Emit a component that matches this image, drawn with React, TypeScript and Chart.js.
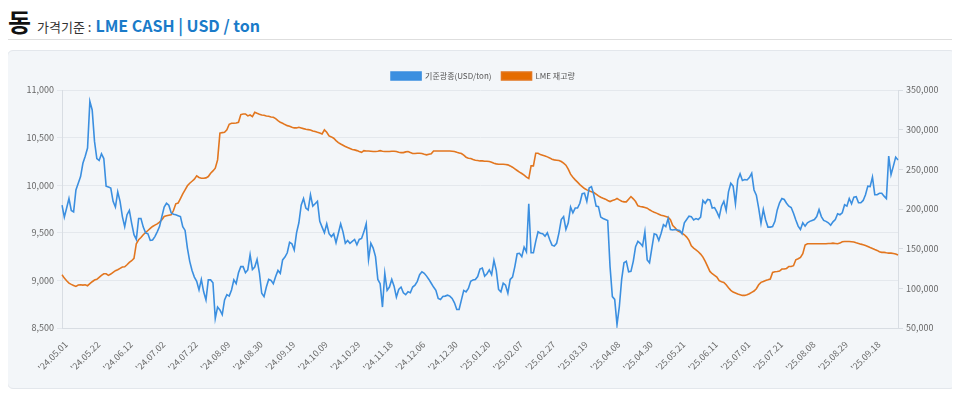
import React, { useEffect, useRef } from 'react';
import { Chart, registerables } from 'chart.js';

Chart.register(...registerables);

const dateTicks: string[] = [
  "'24.05.01", "'24.05.22", "'24.06.12", "'24.07.02", "'24.07.22", "'24.08.09", "'24.08.30",
  "'24.09.19", "'24.10.09", "'24.10.29", "'24.11.18", "'24.12.06", "'24.12.30", "'25.01.20",
  "'25.02.07", "'25.02.27", "'25.03.19", "'25.04.08", "'25.04.30", "'25.05.21", "'25.06.11",
  "'25.07.01", "'25.07.21", "'25.08.08", "'25.08.29", "'25.09.18",
];
const tickEvery = 14;

const priceLabel = '기준광종(USD/ton)';
const stockLabel = 'LME 재고량';

const priceValues: number[] = [
  9790, 9665, 9760, 9860, 9735, 9720, 9950, 10020, 10090, 10230,
  10305, 10390, 10880, 10790, 10460, 10280, 10260, 10330, 10280, 9990,
  9980, 9970, 9830, 9770, 9930, 9830, 9670, 9565, 9690, 9735,
  9600, 9480, 9430, 9650, 9650, 9560, 9500, 9490, 9420, 9425,
  9460, 9510, 9565, 9670, 9770, 9810, 9790, 9710, 9695, 9690,
  9680, 9670, 9565, 9525, 9340, 9200, 9105, 9035, 8990, 8900,
  9010, 8880, 8795, 9005, 9005, 8975, 8600, 8720, 8690, 8640,
  8795, 8850, 8835, 8900, 9005, 8965, 9080, 9145, 9145, 9080,
  9110, 9270, 9115, 9140, 9220, 9080, 8865, 8830, 8930, 9010,
  9000, 8965, 9040, 9105, 9075, 9215, 9245, 9290, 9400, 9385,
  9320, 9500, 9605, 9790, 9860, 9760, 9740, 9900, 9780, 9805,
  9830, 9620, 9560, 9500, 9595, 9490,
  9460, 9490, 9395, 9495, 9595, 9510, 9390, 9420, 9390, 9410,
  9430, 9375, 9430, 9440, 9510, 9595, 9220, 9390, 9340, 9250,
  9010, 8965, 8720, 9075, 8895, 8930, 9010, 8940, 8825, 8905,
  8930, 8870, 8850, 8880, 8870, 8930, 8950, 8990, 9060, 9090,
  9075, 9045, 9010, 8970, 8930, 8895, 8810, 8800, 8830, 8835,
  8845, 8835, 8810, 8765, 8695, 8695, 8795, 8895, 8880, 8915,
  8990, 9005, 9010, 9040, 9120, 9130, 9045, 9070, 9110, 9060,
  9210, 9105, 8905, 8880, 8970, 8950, 8865, 9010, 9035, 9145,
  9280, 9285, 9250, 9350, 9300, 9805, 9290, 9290, 9410, 9510,
  9495, 9490, 9465, 9500, 9430, 9370, 9360, 9390, 9500, 9640,
  9670, 9535, 9605, 9770, 9710, 9760, 9760, 9810, 9910, 9915,
  9830, 9970, 9985, 9900, 9780, 9775, 9665, 9650, 9640, 9630,
  9145,
  8830, 8800, 8535, 8725, 9010, 9185, 9200, 9090, 9095,
  9200, 9355, 9410, 9390, 9360, 9510, 9215, 9185, 9340, 9490,
  9480, 9420, 9495, 9585, 9565, 9650, 9535, 9530, 9535, 9530,
  9525, 9490, 9605, 9640, 9675, 9670, 9635, 9650, 9640, 9665,
  9840, 9810, 9850, 9845, 9760, 9765, 9720, 9665, 9780, 9830,
  9735, 9930, 10020, 9990, 9805, 10055, 10120, 10050, 10060, 10055,
  10080, 10125, 9950, 9895, 9760, 9600, 9745, 9635, 9560, 9560,
  9565, 9620, 9740, 9815, 9860, 9850, 9810, 9780, 9765, 9705,
  9635, 9570, 9535, 9605, 9570, 9605, 9620, 9630, 9640, 9670,
  9745, 9670, 9630, 9620, 9605, 9580, 9615, 9640, 9700, 9690,
  9710, 9795, 9780, 9860, 9805, 9875, 9880, 9815, 9815, 9840,
  9900, 9990, 9985, 10085, 9900, 9900, 9915, 9915, 9885, 9860,
  10305, 10110, 10200, 10295, 10265,
];

const stockValues: number[] = [
  117100, 112900, 109600, 106600, 105000, 103700, 102400, 104100, 104500, 104100,
  104500, 103300, 105800, 108300, 110400, 111300, 113800, 116300, 118400, 118400,
  116300, 118000, 120100, 122200, 123400, 125100, 126800, 127200, 129700, 132700,
  134800, 137700, 156200, 161200, 164100, 167500, 170400, 172900, 175500, 178000,
  179700, 181300, 183400, 186400, 190600, 191400, 192200, 192700, 198100, 206500,
  207400, 213200, 219100, 224100, 229200, 232500, 235000, 237600, 241800, 239700,
  238800, 238800, 239200, 240900, 245100, 248000, 251400, 261900, 295500, 296300,
  296700, 299700, 306800, 308100, 308100, 308500, 309300, 319000, 319800, 319800,
  317300, 318500, 316400, 321900, 320600, 319400, 318500, 318100, 317300, 316900,
  316000, 315600, 313900, 311400, 309300, 308100, 306400, 305100, 304300, 303000,
  302200, 302200, 303000, 302200, 301300, 300500, 300100, 299700, 298400, 297600,
  296700, 295900, 294600, 299700, 296700, 292100,
  290900, 289200, 286200, 283700, 282000, 280400, 278700, 277400, 276200, 274900,
  274500, 273600, 272400, 271500, 273600, 273200, 273200, 272800, 272400, 272400,
  272800, 273600, 272800, 272400, 272400, 272400, 272800, 272800, 272400, 271500,
  271100, 271100, 272000, 272400, 271100, 269900, 269900, 270300, 270300, 269900,
  269000, 268200, 269000, 269500, 273200, 273200, 273200, 273200, 273200, 273200,
  273200, 273200, 272800, 272400, 271500, 270700, 269900, 267800, 265300, 264000,
  263600, 262300, 261500, 261100, 260600, 260600, 260200, 260200, 259800, 259000,
  257700, 256900, 256400, 256400, 256400, 256000, 255600, 254300, 252700, 250600,
  248500, 246400, 244700, 242600, 240100, 238400, 254300, 254300, 270300, 270300,
  268600, 267800, 266900, 265700, 264400, 262700, 261900, 261500, 261100, 259800,
  257700, 255200, 250200, 243900, 240100, 236700, 233800, 230800, 228300, 225800,
  224100, 222900, 221600, 220800, 218700, 216600, 214900, 213600, 212400, 210700,
  209400,
  210700, 211500, 213200, 211500, 209900, 209000, 209000, 212400, 215700,
  212800, 209400, 204000, 203200, 202700, 201900, 201100, 199000, 197300, 196000,
  194800, 193500, 192200, 191400, 190600, 189700, 186400, 179200, 176300, 172900,
  171300, 169600, 167500, 164600, 160400, 153600, 150700, 148600, 146100, 143200,
  139400, 133900, 127600, 121300, 118400, 116300, 114200, 109600, 108300, 107500,
  104500, 100800, 97400, 95300, 94100, 92800, 92000, 91100, 91100, 92000,
  93200, 94900, 96600, 99500, 104500, 107500, 108700, 110000, 110800, 111700,
  120100, 120900, 121300, 121800, 124300, 124300, 125100, 127600, 127600, 128500,
  136000, 137300, 139000, 143600, 154500, 156200, 156200, 156200, 156200, 156200,
  156200, 156200, 156200, 156200, 156600, 156600, 157000, 156600, 156200, 157000,
  158700, 159100, 159100, 159100, 158700, 158300, 157400, 156600, 155700, 154900,
  154100, 152800, 151500, 150300, 149000, 147800, 146100, 145300, 145300, 144800,
  144400, 144400, 144000, 143200, 141900,
];

const FONT = "'Noto Sans CJK KR', 'Noto Sans', sans-serif";

function LmeChart() {
  const ref = useRef<HTMLCanvasElement | null>(null);
  useEffect(() => {
    if (!ref.current) return;
    const labels = priceValues.map((_, i) =>
      i % tickEvery === 0 && dateTicks[i / tickEvery] ? dateTicks[i / tickEvery] : ''
    );
    const fmt = (v: any) => Number(v).toLocaleString('en-US');
    const chart = new Chart(ref.current, {
      type: 'line',
      data: {
        labels,
        datasets: [
          {
            label: priceLabel,
            data: priceValues,
            borderColor: '#3b8fe0',
            backgroundColor: '#3b8fe0',
            borderWidth: 1.6,
            pointRadius: 0,
            tension: 0,
            yAxisID: 'y',
          },
          {
            label: stockLabel,
            data: stockValues,
            borderColor: '#e2761f',
            backgroundColor: '#e56c00',
            borderWidth: 1.6,
            pointRadius: 0,
            tension: 0,
            yAxisID: 'y1',
          },
        ],
      },
      options: {
        animation: false,
        responsive: true,
        maintainAspectRatio: false,
        events: [],
        layout: { padding: { top: 0, left: 0, right: 0, bottom: 0 } },
        font: { family: FONT },
        plugins: {
          legend: {
            display: true,
            labels: {
              boxWidth: 30,
              boxHeight: 8,
              padding: 10,
              color: '#555',
              font: { size: 8, family: FONT },
            },
          },
          tooltip: { enabled: false },
        },
        scales: {
          x: {
            grid: { display: false },
            border: { display: true, color: '#d8dde3' },
            ticks: {
              autoSkip: false,
              minRotation: 45,
              maxRotation: 45,
              labelOffset: 4,
              color: '#6a6a6a',
              font: { size: 9, family: FONT },
              callback: (_v: any, i: number) => (labels[i] ? labels[i] : null),
            },
            afterFit: (s: any) => { s.height = 54; },
          },
          y: {
            position: 'left',
            min: 8500,
            max: 11000,
            ticks: {
              stepSize: 500,
              color: '#666',
              padding: 3,
              font: { size: 9, family: FONT },
              callback: fmt,
            },
            grid: { color: '#e4e8ed', tickLength: 5 },
            border: { display: true, color: '#d8dde3' },
            afterFit: (s: any) => { s.width = 46; },
          },
          y1: {
            position: 'right',
            min: 50000,
            max: 350000,
            ticks: {
              stepSize: 50000,
              color: '#666',
              padding: 3,
              font: { size: 9, family: FONT },
              callback: fmt,
            },
            grid: { drawOnChartArea: false, color: '#d8dde3', tickLength: 5 },
            border: { display: true, color: '#d8dde3' },
            afterFit: (s: any) => { s.width = 52; },
          },
        },
      } as any,
    });
    return () => chart.destroy();
  }, []);
  return <canvas ref={ref} />;
}

export default function App() {
  return (
    <div style={{ position: 'relative', width: 950, height: 388, fontFamily: FONT }}>
      <div style={{ position: 'absolute', left: 0, top: 0, height: 26, display: 'flex', alignItems: 'baseline', whiteSpace: 'nowrap' }}>
        <span style={{ fontSize: 25, fontWeight: 700, color: '#111', lineHeight: '26px' }}>동</span>
        <span style={{ fontSize: 13, color: '#333', marginLeft: 6 }}>가격기준 :</span>
        <span style={{ fontSize: 16, fontWeight: 700, color: '#1a7bc9', marginLeft: 4 }}>LME CASH | USD / ton</span>
      </div>
      <div style={{ position: 'absolute', left: 0, top: 31, width: 950, height: 1, background: '#dedede' }} />
      <div
        style={{
          position: 'absolute', left: -1, top: 42, width: 947, height: 337,
          background: '#f3f6f9', border: '1px solid #e3e7ec', borderRadius: 6,
        }}
      />
      <div style={{ position: 'absolute', left: 8, top: 54, width: 934, height: 320 }}>
        <LmeChart />
      </div>
    </div>
  );
}
